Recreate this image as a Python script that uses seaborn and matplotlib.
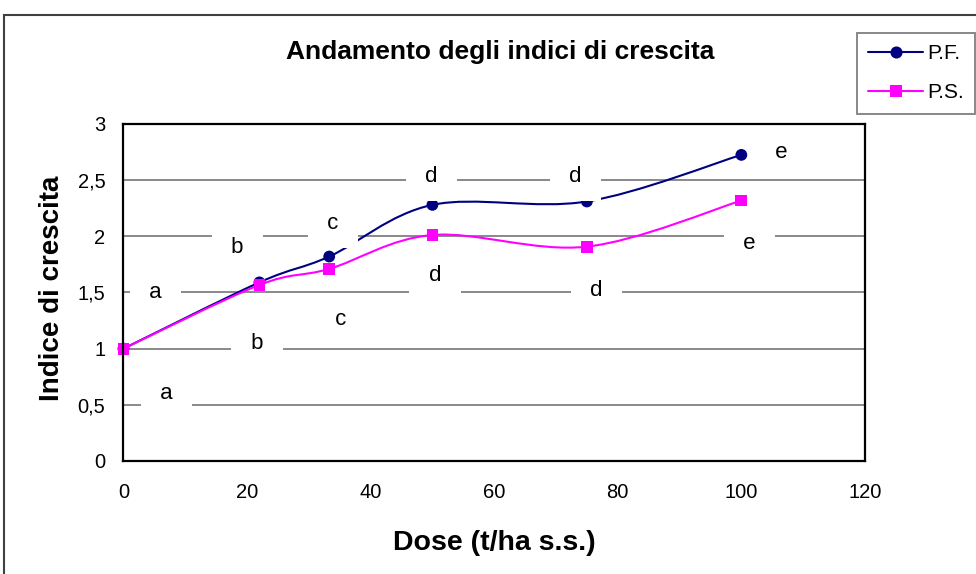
import numpy as np
import pandas as pd
import matplotlib
matplotlib.use("Agg")
import matplotlib.pyplot as plt
from matplotlib.path import Path
from matplotlib.patches import PathPatch, Rectangle
from matplotlib.lines import Line2D
import seaborn as sns

# data
dose = [0, 22, 33.3, 50, 75, 100]
pf_values = [1.0, 1.59, 1.82, 2.28, 2.31, 2.725]
ps_values = [1.0, 1.567, 1.71, 2.012, 1.908, 2.318]
series_names = ["P.F.", "P.S."]
series_colors = {"P.F.": "#000080", "P.S.": "#FF00FF"}
series_markers = {"P.F.": "o", "P.S.": "s"}

# significance letters
pf_letters = ["a", "b", "c", "d", "d", "e"]
ps_letters = ["a", "b", "c", "d", "d", "e"]
# where the letter boxes sit (data coords)
pf_letter_x = [5.2, 18.5, 33.9, 49.9, 73.2, 106.4]
pf_letter_y = [1.50, 1.90, 2.11, 2.53, 2.53, 2.75]
ps_letter_x = [7.0, 21.6, 35.1, 50.4, 76.5, 101.3]
ps_letter_y = [0.60, 1.05, 1.26, 1.65, 1.52, 1.94]

x_ticks = [0, 20, 40, 60, 80, 100, 120]
y_ticks = [0, 0.5, 1, 1.5, 2, 2.5, 3]
y_ticklabels = ["0", "0,5", "1", "1,5", "2", "2,5", "3"]

df = pd.DataFrame({
    "dose": dose * 2,
    "indice": pf_values + ps_values,
    "serie": ["P.F."] * len(dose) + ["P.S."] * len(dose),
})

sns.set_theme(style="white")
plt.rcParams["font.family"] = ["Liberation Sans", "DejaVu Sans"]
plt.rcParams["text.color"] = "black"


def smooth_path(xs, ys):
    # Excel-like smoothed line: cubic bezier through the points
    pts = np.column_stack([xs, ys]).astype(float)
    n = len(pts)
    verts = [pts[0]]
    codes = [Path.MOVETO]
    for i in range(n - 1):
        p0 = pts[max(i - 1, 0)]
        p1 = pts[i]
        p2 = pts[i + 1]
        p3 = pts[min(i + 2, n - 1)]
        verts += [p1 + (p2 - p0) / 6, p2 - (p3 - p1) / 6, p2]
        codes += [Path.CURVE4] * 3
    return Path(verts, codes)


fig = plt.figure(figsize=(9.76, 5.74), dpi=100)
ax = fig.add_axes([0.1265, 0.1969, 0.7597, 0.5871])

for name, vals in zip(series_names, [pf_values, ps_values]):
    ax.add_patch(PathPatch(smooth_path(dose, vals), facecolor="none",
                           edgecolor=series_colors[name], lw=1.5, zorder=2))

sns.scatterplot(data=df, x="dose", y="indice", hue="serie", style="serie",
                palette=series_colors, markers=series_markers, s=72,
                linewidth=0, legend=False, ax=ax, zorder=2.1, clip_on=False)

for letters, lx, ly in [(pf_letters, pf_letter_x, pf_letter_y),
                        (ps_letters, ps_letter_x, ps_letter_y)]:
    for t, x, y in zip(letters, lx, ly):
        ax.text(x, y, " " + t + " ", ha="center", va="center", fontsize=16,
                color="black", zorder=2.3, clip_on=True,
                bbox=dict(boxstyle="square,pad=0.6", facecolor="white",
                          edgecolor="none"))

ax.set_xlim(0, 120)
ax.set_ylim(0, 3)
ax.set_xticks(x_ticks)
ax.set_yticks(y_ticks)
ax.set_yticklabels(y_ticklabels)
ax.set_xlabel("")
ax.set_ylabel("")
ax.set_axisbelow(True)
ax.yaxis.grid(True, color="#808080", lw=1.3)
ax.xaxis.grid(False)
for s in ax.spines.values():
    s.set_color("black")
    s.set_linewidth(1.6)
    s.set_zorder(2.5)
ax.tick_params(axis="both", direction="out", length=5, width=1.2,
               color="black", labelsize=14.5, labelcolor="black")
ax.tick_params(axis="x", pad=11)
ax.tick_params(axis="y", pad=8)

fig.text(0.512, 0.909, "Andamento degli indici di crescita", ha="center",
         va="center", fontsize=19, fontweight="bold", color="black")
fig.text(0.0533, 0.498, "Indice di crescita", ha="center", va="center",
         rotation=90, fontsize=20, fontweight="bold", color="black")
fig.text(0.506, 0.054, "Dose (t/ha s.s.)", ha="center", va="center",
         fontsize=20.5, fontweight="bold", color="black")

handles = [Line2D([], [], color=series_colors[n], marker=series_markers[n],
                  markersize=8.7, lw=1.5, markeredgewidth=0)
           for n in series_names]
leg = fig.legend(handles, series_names, loc="upper right",
                 bbox_to_anchor=(975 / 976, 1 - 33 / 574), borderaxespad=0,
                 fontsize=15, frameon=True, fancybox=False, edgecolor="#606060",
                 handlelength=2.6, handletextpad=0.2, labelspacing=0.95,
                 borderpad=0.55)
leg.get_frame().set_linewidth(1.3)
for txt in leg.get_texts():
    txt.set_color("black")

# outer chart border
fig.patches.append(Rectangle((4 / 976, -0.1), 1.1, 1 - 15 / 574 + 0.1,
                             transform=fig.transFigure, fill=False,
                             edgecolor="#404040", lw=1.5))

fig.savefig("out.png", dpi=100)
